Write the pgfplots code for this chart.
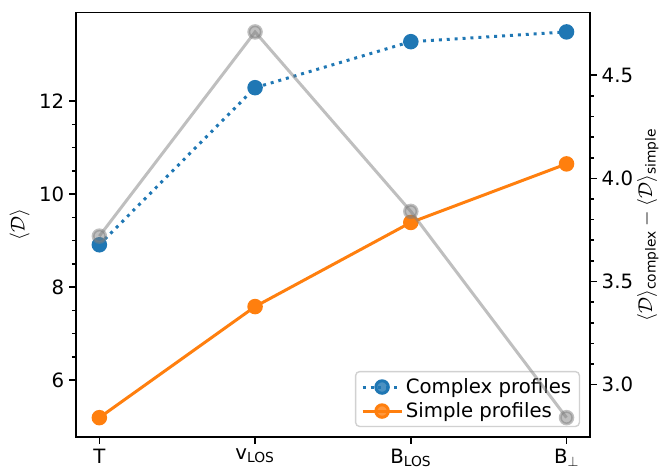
\documentclass[border=0pt]{standalone}
\usepackage{amsmath}
\usepackage{fontspec}
\setmainfont{DejaVu Sans}
\usepackage{pgfplots}
\pgfplotsset{compat=1.18}
\definecolor{mplblue}{HTML}{1F77B4}
\definecolor{mplorange}{HTML}{FF7F0E}
\begin{document}
\begin{tikzpicture}
\useasboundingbox (-54.72pt,-22.32pt) rectangle (421.92pt,314.6pt);
\pgfplotsset{
  commonax/.style={
    scale only axis, width=370pt, height=305.5pt,
    xmin=-0.15, xmax=3.15,
    tick align=outside,
    major tick length=5pt, minor tick length=2.9pt,
    every tick/.style={black, line width=1.15pt},
    axis line style={line width=1.15pt},
    /pgf/number format/assume math mode=true,
    tick label style={font=\fontsize{14.2}{17}\selectfont},
    label style={font=\fontsize{14.2}{17}\selectfont},
  }
}
\begin{axis}[commonax,
  ymin=4.775, ymax=13.905,
  xtick={0,1,2,3},
  xticklabels={T, v\textsubscript{LOS}, B\textsubscript{LOS}, B$_\perp$},
  xtick pos=lower, ytick pos=lower,
  ytick={6,8,10,12},
  minor y tick num=3,
  ylabel={$\langle\mathcal{D}\rangle$},
  legend cell align=left,
  legend style={at={(1,0)}, anchor=south east, xshift=-7pt, yshift=7pt,
    draw=black!18, line width=1pt, rounded corners=3pt, fill=white, fill opacity=0.8, text opacity=1,
    font=\fontsize{14.2}{17}\selectfont, inner xsep=4pt, inner ysep=3pt,
    row sep=1pt},
  legend image code/.code={\draw[mark repeat=2,mark phase=2,#1] plot coordinates {(0pt,0pt) (14pt,0pt) (28pt,0pt)};},
]
\addplot[mplblue, line width=2.15pt, dash pattern=on 2.15pt off 3.55pt, mark=*, mark size=4.5pt, mark options={solid, draw=none, fill=mplblue}]
  coordinates {(0,8.91) (1,12.29) (2,13.28) (3,13.49)};
\addlegendentry{Complex profiles}
\addplot[mplorange, line width=2.15pt, mark=*, mark size=4.5pt, mark options={solid, draw=none, fill=mplorange}]
  coordinates {(0,5.19) (1,7.58) (2,9.39) (3,10.65)};
\addlegendentry{Simple profiles}
\end{axis}
\begin{axis}[commonax,
  ymin=2.7465, ymax=4.8035,
  hide x axis,
  axis y line*=right,
  ytick={3.0,3.5,4.0,4.5},
  yticklabel style={/pgf/number format/.cd, fixed, fixed zerofill, precision=1},
  minor y tick num=4,
  ylabel={$\langle\mathcal{D}\rangle_{\text{complex}} - \langle\mathcal{D}\rangle_{\text{simple}}$},
  ylabel shift=-4pt,
]
\addplot[gray, opacity=0.5, line width=2.15pt, mark=*, mark size=4.5pt, mark options={solid, draw=none, fill=gray}]
  coordinates {(0,3.72) (1,4.71) (2,3.84) (3,2.84)};
\end{axis}
\end{tikzpicture}
\end{document}
